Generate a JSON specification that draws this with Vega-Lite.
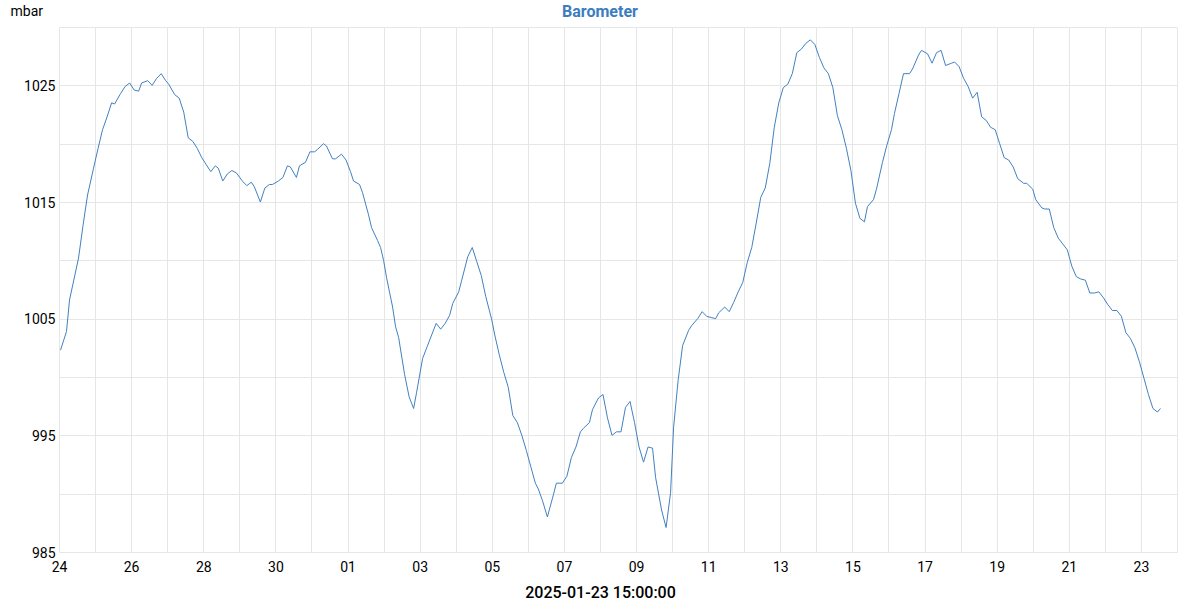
{
  "$schema": "https://vega.github.io/schema/vega-lite/v6.json",
  "width": 1118,
  "height": 525,
  "autosize": "none",
  "padding": {"left": 59, "top": 27, "right": 23, "bottom": 48},
  "background": "white",
  "title": {"text": "Barometer", "fontSize": 16, "fontWeight": "bold", "color": "#3b7dbf", "font": "Roboto", "anchor": "middle", "dx": -18, "baseline": "alphabetic", "offset": -29},
  "data": {"values": [
    {"t":"2024-12-24T01:00","v":1002.3},{"t":"2024-12-24T05:00","v":1003.9},{"t":"2024-12-24T07:00","v":1006.6},{"t":"2024-12-24T13:00","v":1010.2},
    {"t":"2024-12-24T16:00","v":1013.0},{"t":"2024-12-24T19:00","v":1015.6},{"t":"2024-12-24T23:00","v":1017.9},{"t":"2024-12-25T02:00","v":1019.6},
    {"t":"2024-12-25T05:00","v":1021.2},{"t":"2024-12-25T08:00","v":1022.3},{"t":"2024-12-25T11:00","v":1023.5},{"t":"2024-12-25T13:00","v":1023.4},
    {"t":"2024-12-25T17:00","v":1024.3},{"t":"2024-12-25T20:00","v":1024.9},{"t":"2024-12-25T23:00","v":1025.2},{"t":"2024-12-26T02:00","v":1024.6},
    {"t":"2024-12-26T05:00","v":1024.5},{"t":"2024-12-26T07:00","v":1025.2},{"t":"2024-12-26T11:00","v":1025.4},{"t":"2024-12-26T14:00","v":1025.0},
    {"t":"2024-12-26T17:00","v":1025.6},{"t":"2024-12-26T20:00","v":1026.0},{"t":"2024-12-26T23:00","v":1025.4},{"t":"2024-12-27T01:00","v":1025.1},
    {"t":"2024-12-27T05:00","v":1024.2},{"t":"2024-12-27T08:00","v":1023.9},{"t":"2024-12-27T11:00","v":1022.7},{"t":"2024-12-27T14:00","v":1020.5},
    {"t":"2024-12-27T17:00","v":1020.2},{"t":"2024-12-27T20:00","v":1019.6},{"t":"2024-12-27T23:00","v":1018.8},{"t":"2024-12-28T02:00","v":1018.2},
    {"t":"2024-12-28T05:00","v":1017.6},{"t":"2024-12-28T08:00","v":1018.1},{"t":"2024-12-28T10:00","v":1017.9},{"t":"2024-12-28T13:00","v":1016.8},
    {"t":"2024-12-28T16:00","v":1017.4},{"t":"2024-12-28T19:00","v":1017.7},{"t":"2024-12-28T22:00","v":1017.5},{"t":"2024-12-29T02:00","v":1016.8},
    {"t":"2024-12-29T05:00","v":1016.4},{"t":"2024-12-29T08:00","v":1016.7},{"t":"2024-12-29T10:00","v":1016.3},{"t":"2024-12-29T14:00","v":1015.0},
    {"t":"2024-12-29T17:00","v":1016.2},{"t":"2024-12-29T20:00","v":1016.5},{"t":"2024-12-29T22:00","v":1016.5},{"t":"2024-12-30T02:00","v":1016.8},
    {"t":"2024-12-30T05:00","v":1017.1},{"t":"2024-12-30T08:00","v":1018.1},{"t":"2024-12-30T10:00","v":1018.0},{"t":"2024-12-30T14:00","v":1017.1},
    {"t":"2024-12-30T16:00","v":1018.1},{"t":"2024-12-30T20:00","v":1018.4},{"t":"2024-12-30T23:00","v":1019.3},{"t":"2024-12-31T02:00","v":1019.3},
    {"t":"2024-12-31T04:00","v":1019.5},{"t":"2024-12-31T08:00","v":1020.0},{"t":"2024-12-31T10:00","v":1019.8},{"t":"2024-12-31T14:00","v":1018.7},
    {"t":"2024-12-31T16:00","v":1018.7},{"t":"2024-12-31T20:00","v":1019.1},{"t":"2024-12-31T23:00","v":1018.6},{"t":"2025-01-01T02:00","v":1017.6},
    {"t":"2025-01-01T04:00","v":1016.8},{"t":"2025-01-01T08:00","v":1016.5},{"t":"2025-01-01T10:00","v":1015.8},{"t":"2025-01-01T14:00","v":1013.9},
    {"t":"2025-01-01T16:00","v":1012.8},{"t":"2025-01-01T20:00","v":1011.7},{"t":"2025-01-01T22:00","v":1011.1},{"t":"2025-01-02T00:00","v":1010.0},
    {"t":"2025-01-02T02:00","v":1008.5},{"t":"2025-01-02T06:00","v":1006.0},{"t":"2025-01-02T08:00","v":1004.3},{"t":"2025-01-02T10:00","v":1003.4},
    {"t":"2025-01-02T14:00","v":1000.2},{"t":"2025-01-02T17:00","v":998.3},{"t":"2025-01-02T20:00","v":997.3},{"t":"2025-01-02T22:00","v":998.7},
    {"t":"2025-01-03T02:00","v":1001.6},{"t":"2025-01-03T05:00","v":1002.6},{"t":"2025-01-03T08:00","v":1003.6},{"t":"2025-01-03T11:00","v":1004.6},
    {"t":"2025-01-03T14:00","v":1004.1},{"t":"2025-01-03T17:00","v":1004.6},{"t":"2025-01-03T20:00","v":1005.3},{"t":"2025-01-03T22:00","v":1006.3},
    {"t":"2025-01-04T02:00","v":1007.3},{"t":"2025-01-04T04:00","v":1008.3},{"t":"2025-01-04T08:00","v":1010.3},{"t":"2025-01-04T11:00","v":1011.1},
    {"t":"2025-01-04T14:00","v":1009.9},{"t":"2025-01-04T17:00","v":1008.7},{"t":"2025-01-04T20:00","v":1006.9},{"t":"2025-01-05T00:00","v":1004.9},
    {"t":"2025-01-05T02:00","v":1003.6},{"t":"2025-01-05T05:00","v":1001.9},{"t":"2025-01-05T08:00","v":1000.4},{"t":"2025-01-05T11:00","v":999.1},
    {"t":"2025-01-05T14:00","v":996.7},{"t":"2025-01-05T17:00","v":996.1},{"t":"2025-01-05T20:00","v":995.0},{"t":"2025-01-05T23:00","v":993.7},
    {"t":"2025-01-06T02:00","v":992.3},{"t":"2025-01-06T05:00","v":990.9},{"t":"2025-01-06T07:00","v":990.4},{"t":"2025-01-06T10:00","v":989.3},
    {"t":"2025-01-06T13:00","v":988.0},{"t":"2025-01-06T17:00","v":989.9},{"t":"2025-01-06T19:00","v":990.9},{"t":"2025-01-06T23:00","v":990.9},
    {"t":"2025-01-07T02:00","v":991.5},{"t":"2025-01-07T05:00","v":993.1},{"t":"2025-01-07T08:00","v":994.0},{"t":"2025-01-07T11:00","v":995.3},
    {"t":"2025-01-07T13:00","v":995.6},{"t":"2025-01-07T17:00","v":996.1},{"t":"2025-01-07T19:00","v":997.2},{"t":"2025-01-07T23:00","v":998.2},
    {"t":"2025-01-08T02:00","v":998.5},{"t":"2025-01-08T05:00","v":996.5},{"t":"2025-01-08T08:00","v":995.0},{"t":"2025-01-08T11:00","v":995.3},
    {"t":"2025-01-08T14:00","v":995.3},{"t":"2025-01-08T17:00","v":997.4},{"t":"2025-01-08T20:00","v":997.9},{"t":"2025-01-08T23:00","v":996.1},
    {"t":"2025-01-09T02:00","v":994.0},{"t":"2025-01-09T05:00","v":992.7},{"t":"2025-01-09T08:00","v":994.0},{"t":"2025-01-09T11:00","v":993.9},
    {"t":"2025-01-09T13:00","v":991.4},{"t":"2025-01-09T17:00","v":988.6},{"t":"2025-01-09T20:00","v":987.1},{"t":"2025-01-09T23:00","v":990.1},
    {"t":"2025-01-10T01:00","v":995.7},{"t":"2025-01-10T04:00","v":999.7},{"t":"2025-01-10T07:00","v":1002.7},{"t":"2025-01-10T11:00","v":1004.0},
    {"t":"2025-01-10T13:00","v":1004.4},{"t":"2025-01-10T17:00","v":1005.0},{"t":"2025-01-10T20:00","v":1005.6},{"t":"2025-01-10T23:00","v":1005.2},
    {"t":"2025-01-11T02:00","v":1005.1},{"t":"2025-01-11T05:00","v":1005.0},{"t":"2025-01-11T07:00","v":1005.5},{"t":"2025-01-11T11:00","v":1006.0},
    {"t":"2025-01-11T14:00","v":1005.6},{"t":"2025-01-11T17:00","v":1006.4},{"t":"2025-01-11T20:00","v":1007.3},{"t":"2025-01-11T23:00","v":1008.1},
    {"t":"2025-01-12T02:00","v":1009.8},{"t":"2025-01-12T05:00","v":1011.1},{"t":"2025-01-12T08:00","v":1013.2},{"t":"2025-01-12T11:00","v":1015.4},
    {"t":"2025-01-12T14:00","v":1016.2},{"t":"2025-01-12T17:00","v":1018.3},{"t":"2025-01-12T20:00","v":1021.4},{"t":"2025-01-12T23:00","v":1023.5},
    {"t":"2025-01-13T02:00","v":1024.8},{"t":"2025-01-13T05:00","v":1025.1},{"t":"2025-01-13T08:00","v":1026.0},{"t":"2025-01-13T11:00","v":1027.8},
    {"t":"2025-01-13T14:00","v":1028.1},{"t":"2025-01-13T17:00","v":1028.6},{"t":"2025-01-13T20:00","v":1028.9},{"t":"2025-01-13T23:00","v":1028.5},
    {"t":"2025-01-14T02:00","v":1027.4},{"t":"2025-01-14T05:00","v":1026.5},{"t":"2025-01-14T08:00","v":1026.0},{"t":"2025-01-14T11:00","v":1024.8},
    {"t":"2025-01-14T14:00","v":1022.4},{"t":"2025-01-14T17:00","v":1021.2},{"t":"2025-01-14T20:00","v":1019.6},{"t":"2025-01-14T23:00","v":1017.7},
    {"t":"2025-01-15T02:00","v":1014.9},{"t":"2025-01-15T05:00","v":1013.6},{"t":"2025-01-15T08:00","v":1013.3},{"t":"2025-01-15T10:00","v":1014.6},
    {"t":"2025-01-15T14:00","v":1015.2},{"t":"2025-01-15T16:00","v":1016.1},{"t":"2025-01-15T20:00","v":1018.4},{"t":"2025-01-15T23:00","v":1019.9},
    {"t":"2025-01-16T02:00","v":1021.2},{"t":"2025-01-16T04:00","v":1022.6},{"t":"2025-01-16T07:00","v":1024.3},{"t":"2025-01-16T10:00","v":1026.0},
    {"t":"2025-01-16T14:00","v":1026.0},{"t":"2025-01-16T16:00","v":1026.4},{"t":"2025-01-16T20:00","v":1027.6},{"t":"2025-01-16T22:00","v":1028.0},
    {"t":"2025-01-17T02:00","v":1027.7},{"t":"2025-01-17T05:00","v":1026.9},{"t":"2025-01-17T08:00","v":1027.8},{"t":"2025-01-17T11:00","v":1028.0},
    {"t":"2025-01-17T14:00","v":1026.7},{"t":"2025-01-17T18:00","v":1026.9},{"t":"2025-01-17T20:00","v":1027.0},{"t":"2025-01-17T23:00","v":1026.6},
    {"t":"2025-01-18T02:00","v":1025.6},{"t":"2025-01-18T05:00","v":1024.9},{"t":"2025-01-18T08:00","v":1023.9},{"t":"2025-01-18T11:00","v":1024.4},
    {"t":"2025-01-18T14:00","v":1022.3},{"t":"2025-01-18T17:00","v":1022.0},{"t":"2025-01-18T20:00","v":1021.4},{"t":"2025-01-18T23:00","v":1021.2},
    {"t":"2025-01-19T02:00","v":1020.0},{"t":"2025-01-19T05:00","v":1018.8},{"t":"2025-01-19T08:00","v":1018.6},{"t":"2025-01-19T11:00","v":1018.0},
    {"t":"2025-01-19T14:00","v":1017.0},{"t":"2025-01-19T18:00","v":1016.6},{"t":"2025-01-19T20:00","v":1016.6},{"t":"2025-01-20T00:00","v":1016.1},
    {"t":"2025-01-20T02:00","v":1015.2},{"t":"2025-01-20T06:00","v":1014.5},{"t":"2025-01-20T08:00","v":1014.4},{"t":"2025-01-20T11:00","v":1014.4},
    {"t":"2025-01-20T14:00","v":1012.8},{"t":"2025-01-20T17:00","v":1011.9},{"t":"2025-01-20T20:00","v":1011.4},{"t":"2025-01-20T23:00","v":1010.9},
    {"t":"2025-01-21T02:00","v":1009.5},{"t":"2025-01-21T05:00","v":1008.6},{"t":"2025-01-21T08:00","v":1008.4},{"t":"2025-01-21T11:00","v":1008.3},
    {"t":"2025-01-21T14:00","v":1007.2},{"t":"2025-01-21T17:00","v":1007.2},{"t":"2025-01-21T20:00","v":1007.3},{"t":"2025-01-21T23:00","v":1006.8},
    {"t":"2025-01-22T02:00","v":1006.2},{"t":"2025-01-22T05:00","v":1005.7},{"t":"2025-01-22T08:00","v":1005.7},{"t":"2025-01-22T11:00","v":1005.2},
    {"t":"2025-01-22T14:00","v":1003.8},{"t":"2025-01-22T17:00","v":1003.3},{"t":"2025-01-22T20:00","v":1002.5},{"t":"2025-01-22T23:00","v":1001.3},
    {"t":"2025-01-23T02:00","v":999.9},{"t":"2025-01-23T05:00","v":998.5},{"t":"2025-01-23T08:00","v":997.3},{"t":"2025-01-23T11:00","v":997.0},
    {"t":"2025-01-23T13:00","v":997.3}
  ]},
  "mark": {"type": "line", "strokeWidth": 1, "color": "#4281c0", "interpolate": "linear"},
  "encoding": {
    "x": {
      "field": "t",
      "type": "temporal",
      "scale": {"domain": [{"year": 2024, "month": 12, "date": 24}, {"year": 2025, "month": 1, "date": 24}], "nice": false},
      "axis": {
        "tickCount": {"interval": "day", "step": 1},
        "labelExpr": "round((datum.value - datetime(2024, 11, 24)) / 86400000) % 2 == 0 ? timeFormat(datum.value, '%d') : ''",
        "labelOverlap": false,
        "labelFlush": false,
        "labelFont": "Roboto",
        "labelFontSize": 14,
        "labelColor": "#000000",
        "labelBaseline": "top",
        "labelPadding": 8,
        "ticks": false,
        "domain": false,
        "grid": true,
        "gridColor": "#e6e6e6",
        "gridWidth": 1,
        "title": "2025-01-23 15:00:00",
        "titleFont": "Roboto",
        "titleFontSize": 16,
        "titleFontWeight": 500,
        "titleColor": "#000000",
        "titleX": 541,
        "titleY": 45,
        "titleAlign": "center",
        "titleAnchor": null,
        "titleBaseline": "alphabetic"
      }
    },
    "y": {
      "field": "v",
      "type": "quantitative",
      "scale": {"domain": [985, 1030], "nice": false, "zero": false},
      "axis": {
        "values": [985, 990, 995, 1000, 1005, 1010, 1015, 1020, 1025, 1030],
        "labelExpr": "(datum.value - 985) % 10 == 0 ? datum.label : ''",
        "format": "d",
        "labelFont": "Roboto",
        "labelFontSize": 14,
        "labelColor": "#000000",
        "labelPadding": 4,
        "labelOffset": 1,
        "ticks": false,
        "domain": false,
        "grid": true,
        "gridColor": "#e6e6e6",
        "gridWidth": 1,
        "title": "mbar",
        "titleAngle": 0,
        "titleFont": "Roboto",
        "titleFontSize": 14,
        "titleFontWeight": "normal",
        "titleColor": "#000000",
        "titleX": -49,
        "titleY": -12,
        "titleAlign": "left",
        "titleAnchor": null,
        "titleBaseline": "alphabetic"
      }
    }
  },
  "config": {"view": {"stroke": null}, "font": "Roboto"}
}
